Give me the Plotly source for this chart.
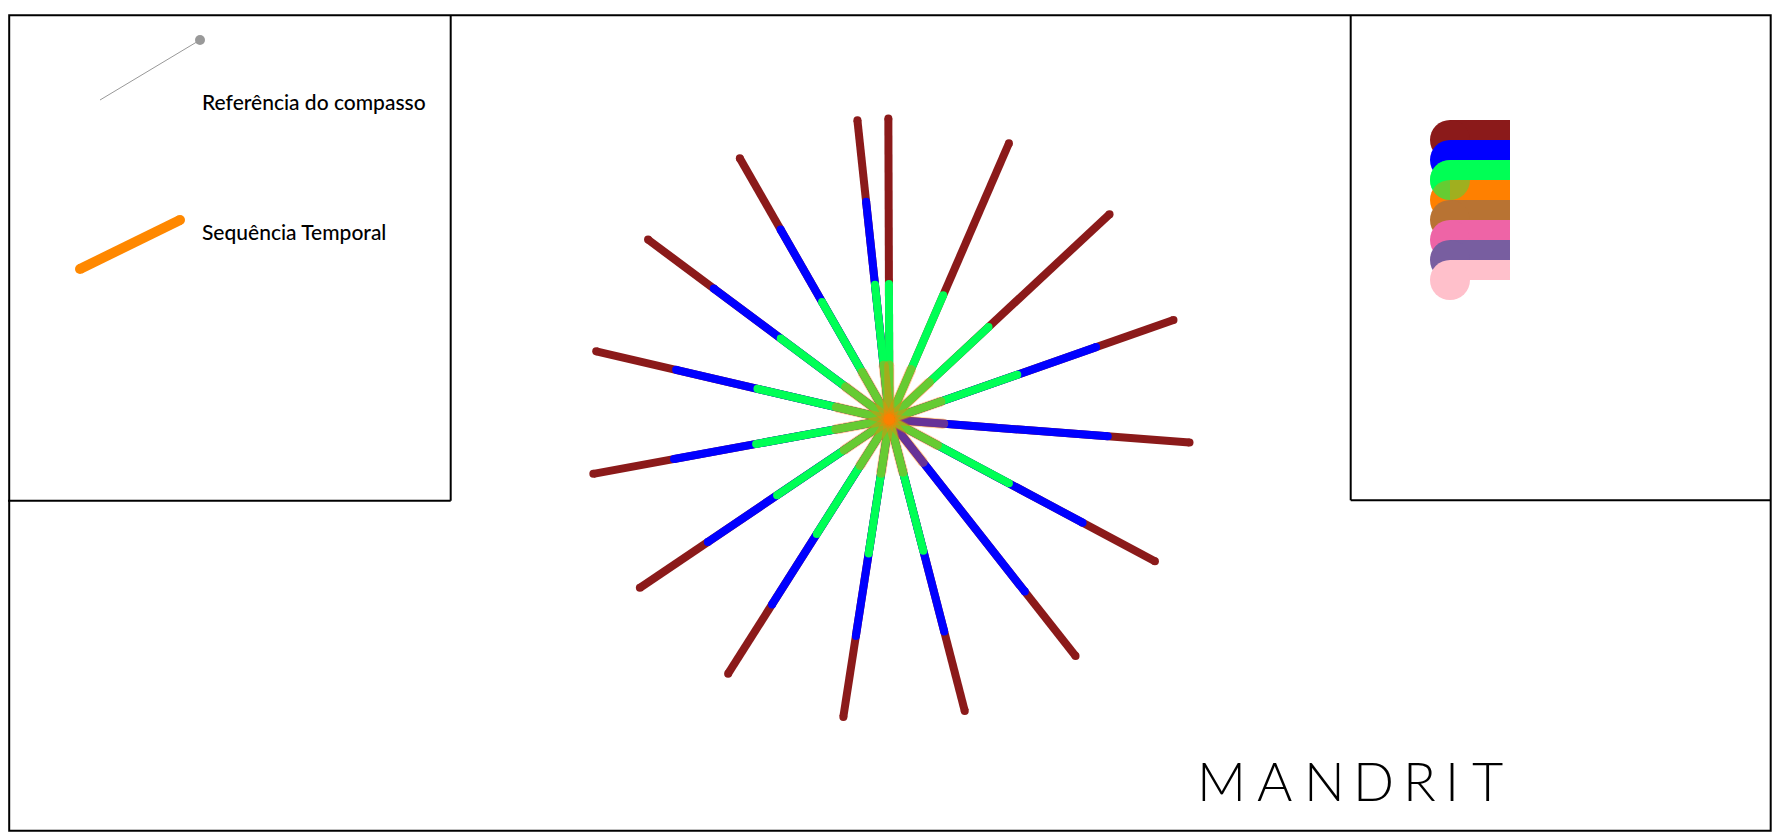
import numpy as np
import plotly.graph_objects as go

# ---------------- data ----------------
# compass angle of each spoke (degrees, clockwise from north)
spoke_angle_deg = [359.8, 23.4, 47.0, 70.7, 94.4, 118.1, 141.8, 165.5,
                   188.8, 212.4, 236.0, 259.6, 283.1, 306.7, 330.2, 353.9]
# radial reach of each class along every spoke (drawn from the centre outward)
reach_red = [301, 301, 301, 301, 301, 301, 301, 301,
             301, 301, 301, 301, 301, 301, 301, 301]
reach_blue = [0, 0, 0, 219, 219, 219, 219, 219,
              219, 219, 219, 219, 219, 219, 219, 219]
reach_green = [135.5, 135.5, 135.5, 135.5, 0, 135.5, 0, 135.5,
               135.5, 135.5, 135.5, 135.5, 135.5, 135.5, 135.5, 135.5]
reach_orange = [54, 54, 54, 54, 54, 54, 54, 54,
                54, 54, 54, 54, 54, 54, 54, 54]

class_colors = ['#8B1A1A', '#0000FF', '#00FF55', '#FF8000',
                '#B87333', '#EE64A6', '#785EA0', '#FFC0CB']
legend_labels = ['Referência do compasso', 'Sequência Temporal']
brand_letters = ['M', 'A', 'N', 'D', 'R', 'I', 'T']

W, H = 1780, 840
OFF = 8                 # page body margin
CX, CY = 889.4, 419.5   # centre of the rose in page pixels

fig = go.Figure()


def spoke_trace(reach, color, width, opacity=1.0, idx=None):
    xs, ys = [], []
    ids = range(len(spoke_angle_deg)) if idx is None else [idx]
    for i in ids:
        r = reach[i]
        if r <= 0:
            continue
        a = np.deg2rad(spoke_angle_deg[i])
        xs += [0, r * np.sin(a), None]
        ys += [0, r * np.cos(a), None]
    return go.Scatter(x=xs, y=ys, mode='lines+markers', xaxis='x', yaxis='y',
                      line=dict(color=color, width=width),
                      marker=dict(color=color, size=width, line=dict(width=0)),
                      opacity=opacity, hoverinfo='skip', showlegend=False)


fig.add_trace(spoke_trace(reach_red, class_colors[0], 8))
fig.add_trace(spoke_trace(reach_blue, class_colors[1], 8))
fig.add_trace(spoke_trace(reach_green, class_colors[2], 8))
for i in range(len(spoke_angle_deg)):
    fig.add_trace(spoke_trace(reach_orange, class_colors[3], 10, opacity=0.4, idx=i))

# ---------------- overlay (page-pixel) axes: legends ----------------
# compass reference sample
fig.add_trace(go.Scatter(x=[100, 200], y=[100, 40], mode='lines', xaxis='x2', yaxis='y2',
                         line=dict(color='#999999', width=1), hoverinfo='skip', showlegend=False))
fig.add_trace(go.Scatter(x=[200], y=[40], mode='markers', xaxis='x2', yaxis='y2',
                         marker=dict(color='#999999', size=10, line=dict(width=0)),
                         hoverinfo='skip', showlegend=False))
# temporal sequence sample
fig.add_trace(go.Scatter(x=[80, 180], y=[269, 220], mode='lines+markers', xaxis='x2', yaxis='y2',
                         line=dict(color='#FF8800', width=10),
                         marker=dict(color='#FF8800', size=10, line=dict(width=0)),
                         hoverinfo='skip', showlegend=False))

# colour swatches (right box)
for k, col in enumerate(class_colors):
    top = 120 + 20 * k
    fig.add_trace(go.Scatter(x=[1450, 1510, 1510, 1450, 1450], y=[top, top, top + 20, top + 20, top],
                             mode='lines', fill='toself', fillcolor=col, xaxis='x2', yaxis='y2',
                             line=dict(width=0, color=col), hoverinfo='skip', showlegend=False))
    fig.add_trace(go.Scatter(x=[1450], y=[top + 20], mode='markers', xaxis='x2', yaxis='y2',
                             marker=dict(color=col, size=40, line=dict(width=0)),
                             hoverinfo='skip', showlegend=False))
# translucent overlay in swatch stack
fig.add_trace(go.Scatter(x=[1450], y=[180], mode='markers', xaxis='x2', yaxis='y2',
                         marker=dict(color=class_colors[2], size=40, line=dict(width=0)),
                         opacity=0.37, hoverinfo='skip', showlegend=False))
t = np.linspace(np.pi / 2, 3 * np.pi / 2, 40)
fig.add_trace(go.Scatter(x=list(1450 + 20 * np.cos(t)) + [1450], y=list(180 + 20 * np.sin(t)) + [160],
                         mode='lines', fill='toself', fillcolor=class_colors[2], xaxis='x2', yaxis='y2',
                         line=dict(width=0, color=class_colors[2]), opacity=0.37,
                         hoverinfo='skip', showlegend=False))

# ---------------- frames ----------------
frame = dict(color='black', width=2)
LEFT = OFF + 1.2
shapes = [
    dict(type='rect', xref='x2', yref='y2', x0=LEFT, x1=1770.7, y0=15.3, y1=830.7, line=frame),
    dict(type='line', xref='x2', yref='y2', x0=OFF, x1=450.7, y0=500.7, y1=500.7, line=frame),
    dict(type='line', xref='x2', yref='y2', x0=450.7, x1=450.7, y0=15.3, y1=500.7, line=frame),
    dict(type='line', xref='x2', yref='y2', x0=1350.7, x1=1770.7, y0=500.3, y1=500.3, line=frame),
    dict(type='line', xref='x2', yref='y2', x0=1350.7, x1=1350.7, y0=15.3, y1=500.3, line=frame),
]

annotations = [
    dict(x=200, y=101, xref='x2', yref='y2', text=legend_labels[0], showarrow=False,
         xanchor='left', yanchor='middle', font=dict(family='Lato', size=21, color='black', weight=500)),
    dict(x=200, y=231, xref='x2', yref='y2', text=legend_labels[1], showarrow=False,
         xanchor='left', yanchor='middle', font=dict(family='Lato', size=21, color='black', weight=500)),
]
letter_x = [1221.7, 1274.5, 1324.2, 1373.3, 1419.0, 1452.0, 1487.3]
for ch, lx in zip(brand_letters, letter_x):
    annotations.append(dict(x=lx, y=780, xref='x2', yref='y2', text=ch, showarrow=False,
                            xanchor='center', yanchor='middle',
                            font=dict(family='Lato', size=54, color='black', weight=300)))

ax_common = dict(visible=False, showgrid=False, zeroline=False, fixedrange=True)
fig.update_layout(
    width=W, height=H, margin=dict(l=0, r=0, t=0, b=0),
    paper_bgcolor='white', plot_bgcolor='white',
    xaxis=dict(range=[-(CX - OFF), W - (CX - OFF)], domain=[0, 1], **ax_common),
    yaxis=dict(range=[-(H - (CY - OFF)), CY - OFF], domain=[0, 1], **ax_common),
    xaxis2=dict(range=[OFF, W + OFF], overlaying='x', anchor='y2', **ax_common),
    yaxis2=dict(range=[H + OFF, OFF], overlaying='y', anchor='x2', **ax_common),
    shapes=shapes, annotations=annotations, showlegend=False,
)

fig.write_html('out.html')
